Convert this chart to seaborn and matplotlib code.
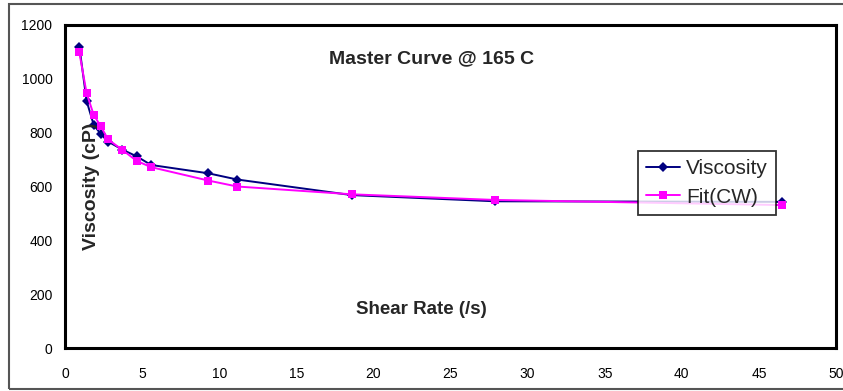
import matplotlib
matplotlib.use("Agg")
import matplotlib.pyplot as plt
import matplotlib.patches as mpatches
import seaborn as sns
import pandas as pd

shear_rate = [0.93, 1.4, 1.86, 2.33, 2.79, 3.72, 4.65, 5.58, 9.3, 11.16, 18.6, 27.9, 46.5]
viscosity = [1120, 918, 829, 794, 767, 737, 712, 680, 649, 626, 568, 545, 543]
fit_cw = [1098, 947, 866, 823, 775, 736, 695, 672, 622, 600, 571, 550, 531]

x_ticks = [0, 5, 10, 15, 20, 25, 30, 35, 40, 45, 50]
y_ticks = [0, 200, 400, 600, 800, 1000, 1200]

sns.set_style("white")
plt.rcParams['font.family'] = ['Liberation Sans', 'DejaVu Sans']

W, H = 843, 391
fig = plt.figure(figsize=(W / 100, H / 100), dpi=100)
ax = fig.add_axes([65 / W, 1 - 348 / H, (836 - 65) / W, (348 - 25) / H])

df = pd.DataFrame({"x": shear_rate, "Viscosity": viscosity, "Fit(CW)": fit_cw})

sns.lineplot(data=df, x="x", y="Viscosity", ax=ax, color="#000080", marker="D",
             markersize=5, markeredgewidth=0, linewidth=1.4, label="Viscosity",
             sort=False, estimator=None, zorder=3)
sns.lineplot(data=df, x="x", y="Fit(CW)", ax=ax, color="#FF00FF", marker="s",
             markersize=5.5, markeredgewidth=0, linewidth=1.4, label="Fit(CW)",
             sort=False, estimator=None, zorder=4)

ax.set_xlim(0, 50)
ax.set_ylim(0, 1200)
ax.set_xticks(x_ticks)
ax.set_yticks(y_ticks)
ax.set_xticklabels([str(t) for t in x_ticks])
ax.set_yticklabels([str(t) for t in y_ticks])
ax.tick_params(axis="both", direction="in", length=3, width=1, colors="black",
               labelsize=10)
ax.tick_params(axis="x", pad=14)
ax.tick_params(axis="y", pad=9)
for s in ax.spines.values():
    s.set_visible(True)
    s.set_linewidth(2.2)
    s.set_color("black")
ax.set_xlabel("")
ax.set_ylabel("")

ax.text(0.475, 0.895, "Master Curve @ 165 C", transform=ax.transAxes,
        ha="center", va="center", fontsize=14, fontweight="bold")
ax.text(0.462, 0.12, "Shear Rate (/s)", transform=ax.transAxes,
        ha="center", va="center", fontsize=13.5, fontweight="bold")
ax.text(0.035, 0.5, "Viscosity (cP)", transform=ax.transAxes, rotation=90,
        ha="center", va="center", fontsize=14, fontweight="bold")

leg = ax.legend(loc="upper left", bbox_to_anchor=(638 / W, 1 - 151 / H),
                bbox_transform=fig.transFigure, borderaxespad=0, fontsize=15,
                frameon=True, fancybox=False, handlelength=1.6,
                handletextpad=0.3, borderpad=0.4, labelspacing=0.45)
leg.get_frame().set_edgecolor("black")
leg.get_frame().set_linewidth(1.3)
leg.set_zorder(10)

border = mpatches.Rectangle((9 / W, 2 / H), 1.2, 1 - 6 / H, transform=fig.transFigure,
                            fill=False, edgecolor="#555555", linewidth=1.5)
fig.patches.append(border)

fig.savefig("out.png", dpi=100)
